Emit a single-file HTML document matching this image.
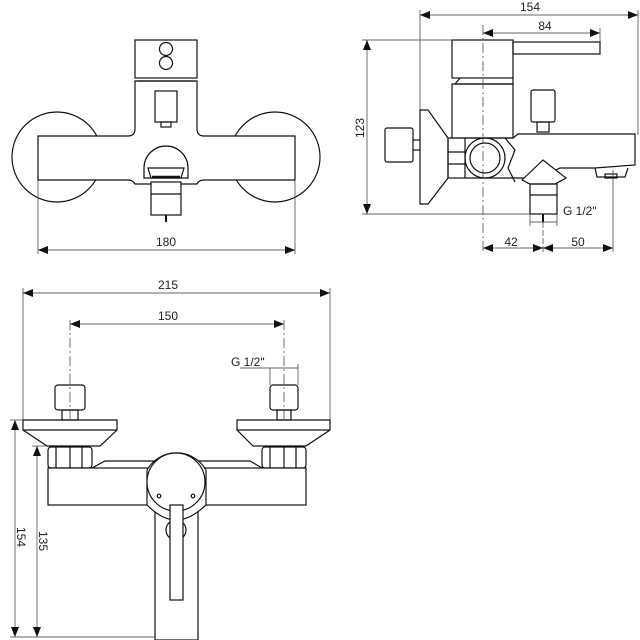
<!DOCTYPE html>
<html><head><style>html,body{margin:0;padding:0;background:#fff}svg{display:block}text{font-family:"Liberation Sans",sans-serif;font-size:12px;fill:#222}</style></head>
<body>
<svg width="640" height="640" viewBox="0 0 640 640" xmlns="http://www.w3.org/2000/svg">
<defs>
<marker id="a" markerWidth="10" markerHeight="8" refX="10" refY="4" orient="auto-start-reverse" markerUnits="userSpaceOnUse"><path d="M0,0 L10,4 L0,8 Z" fill="#111"/></marker>
</defs>
<g fill="none" stroke="#111" stroke-width="1.2">
<!-- VIEW 1 -->
<circle cx="57" cy="157" r="45"/>
<circle cx="275" cy="157" r="45"/>
<path d="M38,136 H128 Q135,136 135,129 V81 H197 V129 Q197,136 204,136 H295 V180 H204 Q199,180 197,184 H135 Q133,180 128,180 H38 Z" fill="#fff"/>
<rect x="135" y="40" width="62" height="38"/>
<line x1="137" y1="81" x2="195" y2="81"/>
<circle cx="166" cy="49" r="6.5"/>
<circle cx="166" cy="63" r="6.5"/>
<rect x="155" y="91" width="22" height="31"/>
<rect x="161" y="122" width="10" height="5"/>
<path d="M144,168 A22,22 0 1 1 188,168 V178 H144 Z" fill="#fff"/>
<path d="M148,168 H184 L181,178 H151 Z" fill="#fff"/>
<line x1="152" y1="177" x2="180" y2="177" stroke-width="2.5"/>
<rect x="151" y="182" width="30" height="33" fill="#fff"/>
<line x1="151" y1="194" x2="181" y2="194"/>
<line x1="166" y1="215" x2="166" y2="222" stroke-width="2"/>
<!-- VIEW 2 -->
<rect x="452" y="40" width="61" height="38"/>
<rect x="513" y="42" width="87" height="12"/>
<path d="M460,78 L455,84 H513 V78"/>
<rect x="452" y="84" width="61" height="54"/>
<path d="M420,110 H428 L448,138 V178 L428,204 H420 Z"/>
<rect x="385" y="128" width="28" height="34" rx="2"/>
<line x1="413" y1="140" x2="420" y2="140"/><line x1="413" y1="150" x2="420" y2="150"/>
<rect x="448" y="138" width="17" height="40"/>
<line x1="448" y1="152" x2="465" y2="152"/><line x1="448" y1="164" x2="465" y2="164"/>
<path d="M465,178 H530 M465,138 H513 L518,134 H635 V165 L595,168 H560 L548,174 L530,178"/>
<circle cx="485" cy="158" r="20"/>
<circle cx="485" cy="158" r="15"/>
<path d="M505,138 L515,150 L508,168 L515,182"/>
<path d="M595,168 L597,177 H625 L628,168"/>
<rect x="605" y="174" width="12" height="4"/>
<rect x="531" y="90" width="24" height="32" rx="2"/>
<rect x="537" y="122" width="12" height="10"/>
<path d="M522,180 L543,160 L566,178 L555,184 H530 Z" fill="#fff"/>
<rect x="530" y="184" width="27" height="30"/>
<line x1="530" y1="195" x2="557" y2="195"/>
<line x1="543" y1="214" x2="543" y2="222" stroke-width="2"/>
<!-- VIEW 3 -->
<path d="M23,420 H117 V430 L100,446 H47 L23,430 Z"/>
<line x1="23" y1="430" x2="117" y2="430"/>
<path d="M237,420 H330 V430 L306,446 H253 L237,430 Z"/>
<line x1="237" y1="430" x2="330" y2="430"/>
<rect x="55" y="385" width="30" height="25" rx="3"/>
<rect x="270" y="385" width="28" height="25" rx="3"/>
<rect x="62" y="410" width="16" height="10"/>
<rect x="277" y="410" width="14" height="10"/>
<rect x="48" y="447" width="44" height="21" rx="3"/>
<line x1="56" y1="447" x2="56" y2="468"/><line x1="70" y1="447" x2="70" y2="468"/><line x1="82" y1="447" x2="82" y2="468"/>
<rect x="262" y="447" width="44" height="21" rx="3"/>
<line x1="270" y1="447" x2="270" y2="468"/><line x1="284" y1="447" x2="284" y2="468"/><line x1="296" y1="447" x2="296" y2="468"/>
<path d="M92,468 L105,461 H250 L262,468"/>
<rect x="48" y="468" width="258" height="37" fill="#fff"/>
<rect x="155" y="505" width="43" height="135"/>
<path d="M147,470 A34,34 0 0 1 206,470 L206,505 Q190,520 176,520 Q162,520 147,505 Z" fill="#fff"/>
<circle cx="176" cy="482" r="29" fill="#fff"/>
<circle cx="176" cy="530" r="10"/>
<rect x="170" y="505" width="13" height="95" fill="#fff"/>
<circle cx="159" cy="496" r="1.8"/><circle cx="193" cy="496" r="1.8"/>
</g>
<!-- dimension lines -->
<g fill="none" stroke="#333" stroke-width="0.7">
<line x1="38" y1="180" x2="38" y2="254"/><line x1="295" y1="180" x2="295" y2="254"/>
<line x1="38" y1="250" x2="295" y2="250" marker-start="url(#a)" marker-end="url(#a)"/>
<line x1="420" y1="10" x2="420" y2="110"/><line x1="638" y1="10" x2="638" y2="135"/>
<line x1="420" y1="15" x2="638" y2="15" marker-start="url(#a)" marker-end="url(#a)"/>
<line x1="600" y1="28" x2="600" y2="42"/>
<line x1="483" y1="33" x2="600" y2="33" marker-start="url(#a)" marker-end="url(#a)"/>
<line x1="483" y1="25" x2="483" y2="252" stroke-dasharray="10,3,2,3"/>
<line x1="362" y1="40" x2="452" y2="40"/><line x1="362" y1="214" x2="530" y2="214"/>
<line x1="367" y1="40" x2="367" y2="214" marker-start="url(#a)" marker-end="url(#a)"/>
<line x1="530" y1="214" x2="530" y2="226"/><line x1="557" y1="214" x2="557" y2="226"/>
<line x1="530" y1="222" x2="557" y2="222"/>
<line x1="543" y1="222" x2="543" y2="252" stroke-dasharray="6,2"/>
<line x1="613" y1="170" x2="613" y2="252"/>
<line x1="483" y1="248" x2="543" y2="248" marker-start="url(#a)" marker-end="url(#a)"/>
<line x1="543" y1="248" x2="613" y2="248" marker-start="url(#a)" marker-end="url(#a)"/>
<line x1="23" y1="288" x2="23" y2="420"/><line x1="330" y1="288" x2="330" y2="420"/>
<line x1="23" y1="293" x2="330" y2="293" marker-start="url(#a)" marker-end="url(#a)"/>
<line x1="70" y1="320" x2="70" y2="420" stroke-dasharray="10,3,2,3"/><line x1="284" y1="320" x2="284" y2="420" stroke-dasharray="10,3,2,3"/>
<line x1="70" y1="324" x2="284" y2="324" marker-start="url(#a)" marker-end="url(#a)"/>
<line x1="240" y1="368" x2="298" y2="368"/>
<line x1="270" y1="368" x2="270" y2="385"/><line x1="298" y1="364" x2="298" y2="385"/>
<line x1="10" y1="420" x2="23" y2="420"/><line x1="10" y1="637" x2="155" y2="637"/>
<line x1="15" y1="420" x2="15" y2="637" marker-start="url(#a)" marker-end="url(#a)"/>
<line x1="32" y1="446" x2="47" y2="446"/>
<line x1="37" y1="446" x2="37" y2="637" marker-start="url(#a)" marker-end="url(#a)"/>
</g>
<text x="166" y="246" text-anchor="middle">180</text>
<text x="530" y="11" text-anchor="middle">154</text>
<text x="545" y="30" text-anchor="middle">84</text>
<text x="0" y="0" text-anchor="middle" transform="translate(364,128) rotate(-90)">123</text>
<text x="563" y="215">G 1/2"</text>
<text x="511" y="246" text-anchor="middle">42</text>
<text x="578" y="246" text-anchor="middle">50</text>
<text x="168" y="289" text-anchor="middle">215</text>
<text x="168" y="320" text-anchor="middle">150</text>
<text x="231" y="366">G 1/2"</text>
<text x="0" y="0" text-anchor="middle" transform="translate(17,537) rotate(90)">154</text>
<text x="0" y="0" text-anchor="middle" transform="translate(39,541) rotate(90)">135</text>
</svg>
</body></html>
